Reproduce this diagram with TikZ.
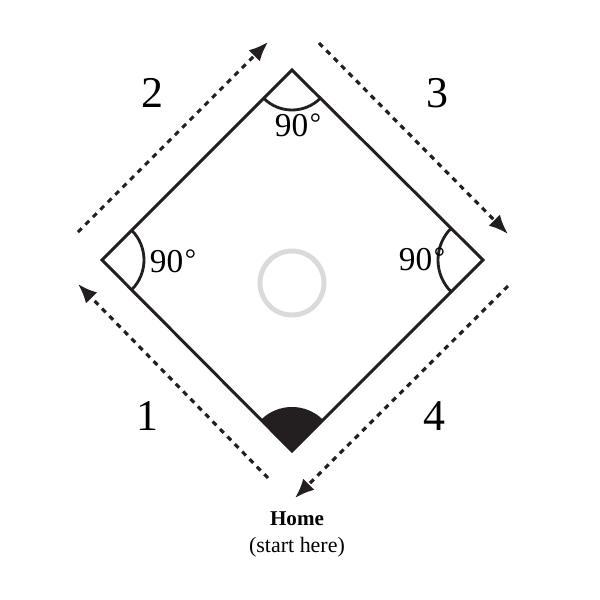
\documentclass[tikz,border=0pt]{standalone}
\usepackage{fontspec}
\setmainfont{Liberation Serif}
\usepackage{xcolor}
\usetikzlibrary{arrows.meta,calc}
\definecolor{ink}{HTML}{231F20}
\definecolor{mound}{HTML}{DADADA}
\newcommand{\basesize}{\fontsize{25}{30}\selectfont}
\newcommand{\anglesize}{\fontsize{19}{22}\selectfont}
\newcommand{\rightangle}{90\kern0.05em\raisebox{0.12em}{\fontsize{16}{18}\selectfont°}}
\tikzset{
  side/.style={draw=ink,line width=1.7pt,line join=miter},
  turn/.style={draw=ink,line width=1.6pt},
  run/.style={draw=ink,line width=1.8pt,dash pattern=on 3pt off 3pt,
    -{Latex[length=11pt,width=9pt]}},
}

\begin{document}
\begin{tikzpicture}[x=0.02cm,y=0.02cm]
	\useasboundingbox (0,0) rectangle (600,600);

    % corners of the diamond
    \coordinate (T) at (292,530);
    \coordinate (L) at (102,340);
    \coordinate (R) at (483,340);
    \coordinate (B) at (292,149);

    \draw[side] (T) -- (R) -- (B) -- (L) -- cycle;
    \draw[draw=mound,line width=2.8pt] (292,317) circle (32);

    % right angles
    \draw[turn] ($(T)+(225:40)$) arc[start angle=225,end angle=315,radius=40];
    \draw[turn] ($(L)+(-45:42)$) arc[start angle=-45,end angle=45,radius=42];
    \draw[turn] ($(R)+(135:45)$) arc[start angle=135,end angle=225,radius=45];
    \fill[ink] (B) -- ($(B)+(45:44)$) arc[start angle=45,end angle=135,radius=44] -- cycle;

    % running path
    \coordinate (s1) at (268,122); \coordinate (e1) at (78,316);
    \coordinate (s2) at (78,368);  \coordinate (e2) at (268,558);
    \coordinate (s3) at (319,557); \coordinate (e3) at (508,366);
    \coordinate (s4) at (508,314); \coordinate (e4) at (295,102);
    \draw[run] (s1) -- (e1);
    \draw[run] (s2) -- (e2);
    \draw[run] (s3) -- (e3);
    \draw[run] (s4) -- (e4);

    \node (n1) at (147,184) {\basesize 1};
    \node (n2) at (152,507) {\basesize 2};
    \node (n3) at (437,507) {\basesize 3};
    \node (n4) at (434,184) {\basesize 4};

    \node (aT) at (298,475) {\anglesize\rightangle};
    \node (aL) at (173,339) {\anglesize\rightangle};
    \node (aR) at (422,341) {\anglesize\rightangle};

    \node (home) at (297,81) {\fontsize{12}{14}\selectfont\bfseries Home};
    \node (start) at (297,53) {\fontsize{12.5}{14}\selectfont (start here)};
    \end{tikzpicture}
\end{document}
